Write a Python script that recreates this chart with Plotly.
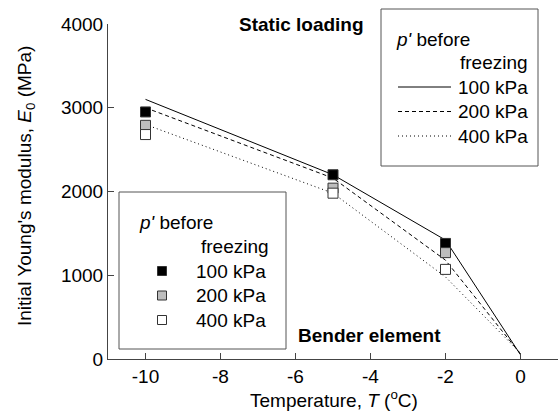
import plotly.graph_objects as go

# ---- data ----
temps = [-10, -5, -2, 0]
static_100 = [3100, 2200, 1420, 50]
static_200 = [3000, 2160, 1180, 60]
static_400 = [2800, 1980, 980, 70]

be_temps = [-10, -5, -2]
be_100 = [2950, 2200, 1380]
be_200 = [2790, 2040, 1270]
be_400 = [2680, 1980, 1070]

x_ticks = [-10, -8, -6, -4, -2, 0]
x_ticktext = ["-10", "-8", "-6", "-4", "-2", "0"]
y_ticks = [0, 1000, 2000, 3000, 4000]
legend_labels = ["100 kPa", "200 kPa", "400 kPa"]

FONT = "Liberation Sans, Arial, sans-serif"
FS = 19
W, H = 558, 414
L, R, T, B = 108, 0, 24, 55
PW, PH = W - L - R, H - T - B


def px(x):
    return (x - L) / PW


def py(y):
    return (H - B - y) / PH


fig = go.Figure()

line_styles = [("solid", static_100), ("4px,3px", static_200), ("1px,3px", static_400)]
for (dash, vals), lab in zip(line_styles, legend_labels):
    fig.add_trace(go.Scatter(x=temps, y=vals, mode="lines",
                             line=dict(color="black", width=1, dash=dash),
                             name="Static " + lab, showlegend=False))

marker_fills = ["#000000", "#bdbdbd", "#ffffff"]
for vals, fill, lab in zip([be_100, be_200, be_400], marker_fills, legend_labels):
    fig.add_trace(go.Scatter(x=be_temps, y=vals, mode="markers",
                             marker=dict(symbol="square", size=10, color=fill,
                                         line=dict(color="#333333", width=1)),
                             name="BE " + lab, showlegend=False))

shapes = []
annotations = []

# Static loading legend box
shapes.append(dict(type="rect", xref="paper", yref="paper",
                   x0=px(381), x1=px(538), y0=py(166), y1=py(9),
                   line=dict(color="#555555", width=1), fillcolor="white", layer="above"))
annotations.append(dict(x=px(394), y=py(39), xref="paper", yref="paper", xanchor="left",
                        yanchor="middle", showarrow=False, text="<i>p'</i> before"))
annotations.append(dict(x=px(530), y=py(63), xref="paper", yref="paper", xanchor="right",
                        yanchor="middle", showarrow=False, text="freezing"))
for i, ((dash, _), lab) in enumerate(zip(line_styles, legend_labels)):
    yy = 87 + i * 24.5
    shapes.append(dict(type="line", xref="paper", yref="paper",
                       x0=px(398), x1=px(451), y0=py(yy), y1=py(yy),
                       line=dict(color="black", width=1, dash=dash), layer="above"))
    annotations.append(dict(x=px(456), y=py(yy), xref="paper", yref="paper",
                            xanchor="left", yanchor="middle", showarrow=False, text=lab))

# Bender element legend box
shapes.append(dict(type="rect", xref="paper", yref="paper",
                   x0=px(119), x1=px(286), y0=py(349), y1=py(192),
                   line=dict(color="#555555", width=1), fillcolor="white", layer="above"))
annotations.append(dict(x=px(137), y=py(222), xref="paper", yref="paper", xanchor="left",
                        yanchor="middle", showarrow=False, text="<i>p'</i> before"))
annotations.append(dict(x=px(271), y=py(246), xref="paper", yref="paper", xanchor="right",
                        yanchor="middle", showarrow=False, text="freezing"))
for i, (fill, lab) in enumerate(zip(marker_fills, legend_labels)):
    yy = 271 + i * 24.5
    shapes.append(dict(type="rect", xref="paper", yref="paper",
                       x0=px(157.5), x1=px(166.5), y0=py(yy + 4.5), y1=py(yy - 4.5),
                       line=dict(color="#333333", width=1), fillcolor=fill, layer="above"))
    annotations.append(dict(x=px(194), y=py(yy), xref="paper", yref="paper",
                            xanchor="left", yanchor="middle", showarrow=False, text=lab))

# Labels
annotations.append(dict(x=px(301), y=py(24), xref="paper", yref="paper", xanchor="center",
                        yanchor="middle", showarrow=False, text="<b>Static loading</b>"))
annotations.append(dict(x=px(369), y=py(335), xref="paper", yref="paper", xanchor="center",
                        yanchor="middle", showarrow=False, text="<b>Bender element</b>"))

# Axis titles
annotations.append(dict(x=px(334), y=py(399), xref="paper", yref="paper", xanchor="center",
                        yanchor="middle", showarrow=False,
                        text="Temperature, <i>T</i> (<sup>o</sup>C)"))
annotations.append(dict(x=px(26), y=py(186), xref="paper", yref="paper", xanchor="center",
                        yanchor="middle", showarrow=False, textangle=-90,
                        text="Initial Young's modulus, <i>E</i><sub>0</sub> (MPa)"))

fig.update_layout(
    width=W, height=H,
    margin=dict(l=L, r=R, t=T, b=B),
    paper_bgcolor="white", plot_bgcolor="white",
    font=dict(family=FONT, size=FS, color="black"),
    shapes=shapes, annotations=annotations,
    showlegend=False,
)
fig.update_xaxes(range=[-11, 1], tickvals=x_ticks, ticktext=x_ticktext,
                 ticks="inside", ticklen=6, tickwidth=1, tickcolor="#444444",
                 showline=True, linecolor="#444444", linewidth=1,
                 showgrid=False, zeroline=False, fixedrange=True)
fig.update_yaxes(range=[0, 4000], tickvals=y_ticks,
                 ticks="inside", ticklen=6, tickwidth=1, tickcolor="#444444",
                 showline=True, linecolor="#444444", linewidth=1,
                 showgrid=False, zeroline=False, fixedrange=True)

fig.write_html("out.html", config={"displayModeBar": False})
